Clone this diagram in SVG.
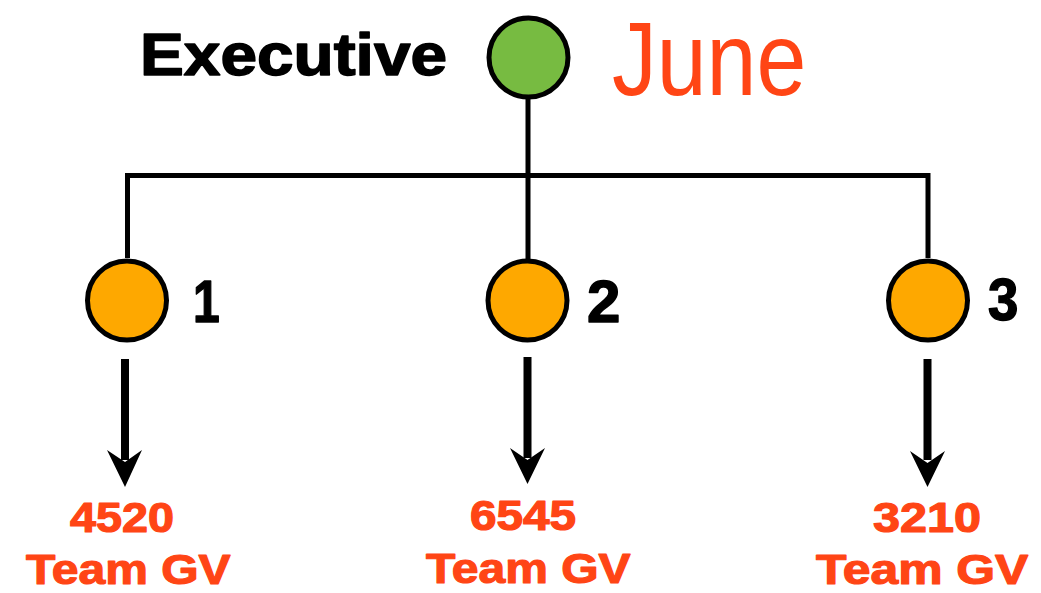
<svg xmlns="http://www.w3.org/2000/svg" width="1041" height="593" viewBox="0 0 1041 593">
<style>
.node{stroke:#000;stroke-width:5}
.lead{fill:#77BB41}
.mem{fill:#FEA800}
.conn{fill:none;stroke:#000;stroke-width:5;stroke-linecap:butt}
.shaft{fill:none;stroke:#000;stroke-width:8}
.head{fill:#000}
.blk{font-family:"Liberation Sans",Arial,sans-serif;font-weight:bold;fill:#000;stroke:#000;stroke-width:1.5;stroke-linejoin:round;font-size:60px}
.gv{font-family:"Liberation Sans",Arial,sans-serif;font-weight:bold;fill:#FF4515;stroke:#FF4515;stroke-width:1.2;stroke-linejoin:round;font-size:42px}
.june{font-family:"Liberation Sans",Arial,sans-serif;font-weight:normal;fill:#FF4515;font-size:103px}
</style>
<rect width="1041" height="593" fill="#fff"/>
<g id="connectors">
<path class="conn" d="M528 98 V262"/>
<path class="conn" d="M127.5 258 V175.5 H928 V258"/>
<path class="shaft" d="M125 359 V460"/>
<path class="head" d="M125 487 L107 450 L125 462 L142 450 Z"/>
<path class="shaft" d="M527.5 357 V458"/>
<path class="head" d="M527.5 484 L510 448 L527.5 460 L545 448 Z"/>
<path class="shaft" d="M927.5 359 V460"/>
<path class="head" d="M927.5 487 L910 451 L927.5 463 L945 451 Z"/>
</g>
<g id="executive">
<circle class="node lead" cx="528.5" cy="57.5" r="39.5"/>
<text class="blk" transform="translate(140 75) scale(1.096 1)">Executive</text>
<text class="june" transform="translate(612 95) scale(0.87 1)">June</text>
</g>
<g id="member1">
<circle class="node mem" cx="127" cy="300.5" r="39.5"/>
<text class="blk" transform="translate(193 322) scale(0.8 1)">1</text>
</g>
<g id="member2">
<circle class="node mem" cx="527.5" cy="300.5" r="39.5"/>
<text class="blk" transform="translate(587 322)">2</text>
</g>
<g id="member3">
<circle class="node mem" cx="928" cy="300.5" r="39.5"/>
<text class="blk" transform="translate(988 320) scale(0.91 1)">3</text>
</g>
<g id="result1">
<text class="gv" transform="translate(70 532) scale(1.113 1)">4520</text>
<text class="gv" transform="translate(26 584) scale(1.143 1)">Team GV</text>
</g>
<g id="result2">
<text class="gv" transform="translate(470 530) scale(1.135 1)">6545</text>
<text class="gv" transform="translate(426 583) scale(1.143 1)">Team GV</text>
</g>
<g id="result3">
<text class="gv" transform="translate(873 532) scale(1.156 1)">3210</text>
<text class="gv" transform="translate(816 584) scale(1.187 1)">Team GV</text>
</g>
</svg>
